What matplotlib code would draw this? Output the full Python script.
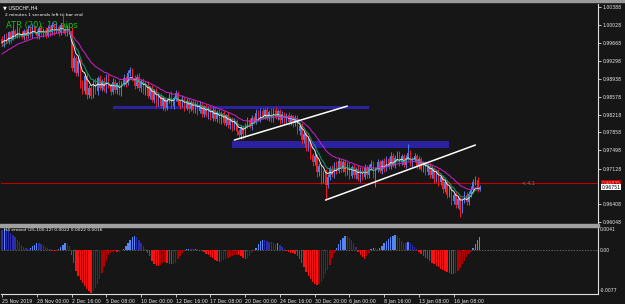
import matplotlib
matplotlib.use("Agg")
import matplotlib.pyplot as plt
import numpy as np

# ---------------- data ----------------
closes = [
    0.9965, 0.9980, 0.9970, 0.9988, 0.9975, 0.9990, 0.9982, 0.9995, 0.9984, 0.9978,
    0.9990, 0.9980, 0.9995, 0.9983, 0.9998, 0.9988, 0.9980, 0.9996, 0.9986, 0.9993,
    0.9982, 0.9996, 0.9988, 1.0002, 0.9990, 0.9998, 0.9986, 1.0003, 0.9994, 0.9985,
    0.9998, 0.9990, 0.9915, 0.9935, 0.9905, 0.9930, 0.9885, 0.9870, 0.9900, 0.9862,
    0.9875, 0.9860, 0.9888, 0.9870, 0.9895, 0.9876, 0.9890, 0.9872, 0.9898, 0.9880,
    0.9868, 0.9888, 0.9872, 0.9885, 0.9866, 0.9884, 0.9895, 0.9885, 0.9905, 0.9912,
    0.9895, 0.9880, 0.9898, 0.9875, 0.9890, 0.9868, 0.9882, 0.9860, 0.9875, 0.9852,
    0.9868, 0.9845, 0.9860, 0.9838, 0.9855, 0.9835, 0.9850, 0.9862, 0.9840, 0.9855,
    0.9865, 0.9848, 0.9840, 0.9855, 0.9835, 0.9850, 0.9832, 0.9848, 0.9830, 0.9845,
    0.9828, 0.9842, 0.9822, 0.9838, 0.9820, 0.9835, 0.9815, 0.9830, 0.9812, 0.9826,
    0.9810, 0.9824, 0.9805, 0.9820, 0.9800, 0.9812, 0.9795, 0.9808, 0.9788, 0.9780,
    0.9795, 0.9782, 0.9800, 0.9810, 0.9798, 0.9815, 0.9808, 0.9825, 0.9812, 0.9828,
    0.9818, 0.9830, 0.9815, 0.9826, 0.9812, 0.9830, 0.9816, 0.9828, 0.9810, 0.9822,
    0.9808, 0.9820, 0.9806, 0.9818, 0.9804, 0.9815, 0.9788, 0.9798, 0.9770, 0.9782,
    0.9755, 0.9768, 0.9740, 0.9725, 0.9738, 0.9705, 0.9718, 0.9690, 0.9705, 0.9680,
    0.9695, 0.9712, 0.9700, 0.9722, 0.9708, 0.9728, 0.9712, 0.9725, 0.9705, 0.9720,
    0.9698, 0.9715, 0.9700, 0.9712, 0.9692, 0.9710, 0.9696, 0.9714, 0.9700, 0.9716,
    0.9722, 0.9700, 0.9712, 0.9725, 0.9708, 0.9728, 0.9712, 0.9732, 0.9718, 0.9738,
    0.9720, 0.9735, 0.9742, 0.9725, 0.9738, 0.9720, 0.9735, 0.9745, 0.9722, 0.9730,
    0.9738, 0.9718, 0.9732, 0.9712, 0.9722, 0.9705, 0.9718, 0.9700, 0.9712, 0.9692,
    0.9705, 0.9685, 0.9695, 0.9672, 0.9685, 0.9660, 0.9672, 0.9648, 0.9660, 0.9640,
    0.9652, 0.9630, 0.9648, 0.9660, 0.9645, 0.9662, 0.9670, 0.9685, 0.9690, 0.9672,
    0.9675,
]
first_open = 0.9975

# wick lengths in pips
up_wick = [
    6, 4, 7, 3, 5, 8, 4, 6, 3, 7, 5, 4, 8, 3, 6, 5, 7, 4, 6, 3,
    5, 7, 4, 6, 3, 8, 5, 4, 24, 6, 5, 4, 8, 6, 5, 9, 4, 7, 6, 5,
    7, 5, 4, 8, 5, 6, 4, 7, 5, 6, 4, 7, 5, 3, 6, 5, 8, 4, 6, 5,
    4, 6, 5, 7, 4, 6, 5, 8, 4, 6, 5, 7, 4, 6, 5, 3, 6, 4, 7, 5,
    6, 5, 4, 7, 3, 6, 5, 4, 6, 5, 4, 7, 5, 3, 6, 4, 5, 7, 4, 5,
    6, 4, 5, 3, 6, 5, 4, 7, 5, 4, 6, 5, 4, 7, 5, 6, 4, 8, 5, 6,
    7, 4, 6, 5, 8, 4, 6, 5, 4, 7, 5, 4, 6, 5, 3, 6, 5, 4, 6, 5,
    4, 6, 5, 4, 7, 5, 6, 4, 5, 6, 7, 5, 8, 4, 6, 7, 5, 6, 8, 5,
    6, 5, 7, 4, 8, 5, 6, 7, 5, 6, 8, 5, 4, 7, 6, 5, 6, 7, 5, 8,
    6, 5, 7, 6, 5, 4, 6, 17, 5, 6,
    7, 5, 6, 4, 5, 6, 4, 5, 6, 4,
    5, 6, 4, 5, 6, 4, 5, 6, 4, 5,
    6, 4, 5, 7, 5, 6, 8, 6, 7, 5,
    5,
]
dn_wick = [
    5, 7, 4, 6, 8, 3, 6, 5, 7, 4, 6, 8, 4, 5, 7, 3, 6, 5, 4, 7,
    6, 4, 7, 5, 8, 4, 6, 3, 7, 5, 4, 6, 5, 8, 6, 5, 9, 7, 6, 8,
    6, 7, 5, 6, 8, 4, 7, 5, 6, 4, 7, 5, 6, 8, 4, 6, 5, 7, 4, 6,
    5, 7, 4, 6, 8, 5, 6, 4, 7, 5, 6, 8, 5, 4, 7, 6, 5, 4, 6, 7,
    5, 6, 7, 4, 6, 5, 7, 4, 6, 5, 7, 4, 6, 5, 4, 7, 5, 6, 4, 6,
    5, 7, 4, 6, 5, 8, 6, 5, 7, 6, 8, 9, 5, 6, 4, 7, 5, 6, 4, 6,
    5, 6, 4, 7, 5, 6, 4, 5, 7, 6, 5, 4, 6, 5, 7, 5, 6, 8, 7, 6,
    7, 6, 8, 7, 6, 9, 7, 8, 6, 30, 7, 6, 5, 7, 6, 5, 7, 6, 8, 5,
    7, 5, 6, 8, 5, 7, 6, 5, 7, 6, 5, 7, 25, 6, 5, 7, 6, 5, 7, 6,
    5, 6, 5, 7, 6, 5, 7, 6, 5, 6,
    5, 7, 6, 5, 7, 6, 5, 7, 6, 8,
    6, 7, 5, 8, 6, 7, 5, 8, 6, 7,
    6, 15, 7, 5, 6, 5, 7, 6, 5, 6,
    5,
]

# emacd histogram, units of 0.0001
hist = [
    40, 41, 39, 37, 34, 30, 25, 20, 15, 10, 7, 4, 3, 5, 8, 11, 13, 13, 12, 10,
    7, 4, 2, -1, -2, -1, 3, 7, 11, 13, 12, 9, -10, -25, -40, -50, -58, -64, -70, -76,
    -80, -83, -80, -74, -66, -55, -44, -32, -20, -10, -5, -3, -2, -4, -3, -1, 3, 8, 14, 20,
    25, 27, 25, 20, 14, 8, 2, -5, -12, -20, -26, -30, -31, -28, -24, -22, -24, -26, -27, -27,
    -24, -18, -11, -5, -1, 2, 3, 3, 2, 3, 2, 1, -2, -4, -7, -10, -13, -16, -19, -21,
    -22, -21, -19, -17, -15, -13, -11, -9, -9, -10, -12, -15, -17, -16, -12, -6, -1, 5, 12, 17,
    20, 19, 18, 16, 15, 13, 12, 13, 11, 7, 2, -2, -4, -5, -6, -8, -12, -18, -25, -33,
    -42, -50, -56, -61, -65, -67, -66, -62, -55, -47, -38, -28, -16, -5, 4, 12, 19, 24, 28, 27,
    24, 20, 14, 7, -3, -9, -14, -17, -12, -5, 2, 5, 4, 3, 5, 8, 13, 18, 22, 26,
    28, 29, 27, 23, 18, 14, 13, 15, 14, 10, 6, 2, -3, -7, -11, -15, -18, -21, -24, -27,
    -30, -33, -36, -38, -40, -42, -44, -46, -47, -45, -40, -34, -27, -20, -13, -7, -3, 4, 12, 20,
    25,
]

ma_periods = [6, 9, 21]
ma_init = [0.9968, 0.9958, 0.9942]
ma_colors = ["#f0f0f0", "#10a070", "#d020d0"]

time_labels = ["25 Nov 2019", "28 Nov 00:00", "2 Dec 16:00", "5 Dec 08:00",
               "10 Dec 00:00", "12 Dec 16:00", "17 Dec 08:00", "20 Dec 00:00",
               "24 Dec 16:00", "30 Dec 20:00", "6 Jan 00:00", "8 Jan 16:00",
               "13 Jan 08:00", "16 Jan 08:00"]
time_tick_bars = [0, 16, 32, 48, 64, 80, 96, 112, 128, 144, 160, 176, 192, 208]

price_ticks = [1.00388, 1.00028, 0.99668, 0.99298, 0.98938, 0.98578, 0.98218,
               0.97858, 0.97498, 0.97128, 0.96408, 0.96048]
hist_ticks = [0.0041, 0.0, -0.0077]
hist_tick_labels = ["0.0041", "0.00", "-0.0077"]

zones = [  # (bar start, bar end, price low, price high)
    (51, 169, 0.98329, 0.98380),
    (106, 206, 0.97542, 0.97683),
]
trendlines = [  # (bar0, price0, bar1, price1)
    (107, 0.97703, 159, 0.98388),
    (149, 0.96492, 218, 0.97602),
]
hline_price = 0.96835
bid_price = 0.96751

# ---------------- style ----------------
BG = "#161616"
W, H = 625, 304
fig = plt.figure(figsize=(W / 100, H / 100), dpi=100, facecolor=BG)

def fx(px):
    return px / W

def fy(py):
    return 1 - py / H

ax = fig.add_axes([fx(1), fy(224), fx(597), 220 / H], facecolor=BG)
ax2 = fig.add_axes([fx(1), fy(294), fx(597), 67 / H], facecolor=BG)

XMIN, XMAX = -0.5, 274.5
ax.set_xlim(XMIN, XMAX)
ax2.set_xlim(XMIN, XMAX)
ax.set_ylim(0.96008, 1.00449)
ax2.set_ylim(-0.0085, 0.0045)

n = len(closes)
x = np.arange(n)
c = np.array(closes)
o = np.array([first_open] + closes[:-1])
hi = np.maximum(o, c) + np.array(up_wick) * 0.0001
lo = np.minimum(o, c) - np.array(dn_wick) * 0.0001
up = c >= o
UPC, DNC = "#4a7de8", "#ff1a1a"
cols = np.where(up, UPC, DNC)

ax.vlines(x, lo, hi, colors=cols, lw=0.7, zorder=3)
body_lo = np.minimum(o, c)
body_h = np.maximum(np.abs(c - o), 0.00006)
ax.bar(x, body_h, bottom=body_lo, width=0.62, color=cols, linewidth=0, zorder=3)

# moving averages
for p, init, col in zip(ma_periods, ma_init, ma_colors):
    a = 2.0 / (p + 1)
    vals = []
    prev = init
    for v in closes:
        prev = prev + a * (v - prev)
        vals.append(prev)
    ax.plot(x, vals, color=col, lw=0.7, zorder=4)

# zones
for b0, b1, plo, phi in zones:
    ax.fill_between([b0, b1], plo, phi, color="#2a22a0", lw=0, zorder=2)

# trendlines
for b0, p0, b1, p1 in trendlines:
    ax.plot([b0, b1], [p0, p1], color="white", lw=1.1, zorder=5,
            solid_capstyle="round")

# red horizontal line
ax.axhline(hline_price, color="#c00000", lw=0.8, zorder=1)
ax.text(0.873, hline_price, "< 4.1", transform=ax.get_yaxis_transform(),
        color="#808080", fontsize=3.3, va="center", ha="left", zorder=1)

# axes styling
for a_ in (ax, ax2):
    for s in ("left", "top"):
        a_.spines[s].set_visible(False)
    a_.spines["right"].set_color("#e0e0e0")
    a_.spines["right"].set_linewidth(0.8)
    a_.spines["bottom"].set_color("#e0e0e0")
    a_.spines["bottom"].set_linewidth(0.8)
    a_.yaxis.tick_right()
    a_.tick_params(axis="y", colors="#e0e0e0", labelcolor="#e8e8e8",
                   labelsize=3.3, length=2, width=0.6, pad=1.5)
ax.spines["bottom"].set_visible(False)
ax.set_xticks([])
ax.set_yticks(price_ticks)
ax.set_yticklabels([f"{v:.5f}" for v in price_ticks])

# histogram
hv = np.array(hist) * 0.0001
hcols = []
for i, v in enumerate(hv):
    prev = hv[i - 1] if i > 0 else v
    if v >= 0:
        hcols.append("#5585ee" if v > prev else "#2c2ca8")
    else:
        hcols.append("#ff1010" if v < prev else "#b00000")
ax2.bar(x, hv, width=0.62, color=hcols, linewidth=0, zorder=3)
ax2.axhline(0, color="#808080", lw=0.5, ls=(0, (2, 2)), zorder=1)
ax2.set_yticks(hist_ticks)
ax2.set_yticklabels(hist_tick_labels)
ax2.tick_params(axis="y", length=0)
ax2.set_xticks(time_tick_bars)
ax2.set_xticklabels(time_labels)
ax2.tick_params(axis="x", colors="#e0e0e0", labelcolor="#e8e8e8",
                labelsize=3.4, length=2.5, width=0.6, pad=1.0)
for lab in ax2.get_xticklabels():
    lab.set_horizontalalignment("left")

# separators
fig.patches.append(plt.Rectangle((0, fy(227)), fx(599), 3 / H,
                                 transform=fig.transFigure, color="#a0a0a0", zorder=5))
fig.patches.append(plt.Rectangle((0, fy(2)), 1, 2 / H,
                                 transform=fig.transFigure, color="#9a9a9a", zorder=5))

# price boxes
ax.text(1.006, hline_price, "0.96835", transform=ax.get_yaxis_transform(),
        color="#ff9090", fontsize=3.3, va="center", ha="left",
        bbox=dict(boxstyle="square,pad=0.15", fc="#c00000", ec="none"), zorder=6, clip_on=False)
ax.text(1.006, bid_price, "0.96751", transform=ax.get_yaxis_transform(),
        color="black", fontsize=3.3, va="center", ha="left",
        bbox=dict(boxstyle="square,pad=0.15", fc="white", ec="none"), zorder=6, clip_on=False)

# labels
def axfrac(px, py):
    return (px - 1) / 597, (224 - py) / 220

ax.text(*axfrac(3, 7.5), "\u25bc USDCHF,H4", transform=ax.transAxes, color="white",
        fontsize=3.6, va="center", ha="left", zorder=1)
ax.text(*axfrac(5, 15), "2 minutes 1 seconds left to bar end", transform=ax.transAxes,
        color="white", fontsize=3.2, va="center", ha="left", zorder=1)
ax.text(*axfrac(6, 25), "ATR (20): 18 pips", transform=ax.transAxes, color="#18c018",
        fontsize=6, va="center", ha="left", zorder=1)
ax2.text(3 / 597, (294 - 230) / 67, "H4 emacd (25,100,12) 0.0022 0.0022 0.0016",
         transform=ax2.transAxes, color="white", fontsize=3.2, va="center", ha="left", zorder=6)

fig.savefig("out.png", dpi=100, facecolor=BG)
